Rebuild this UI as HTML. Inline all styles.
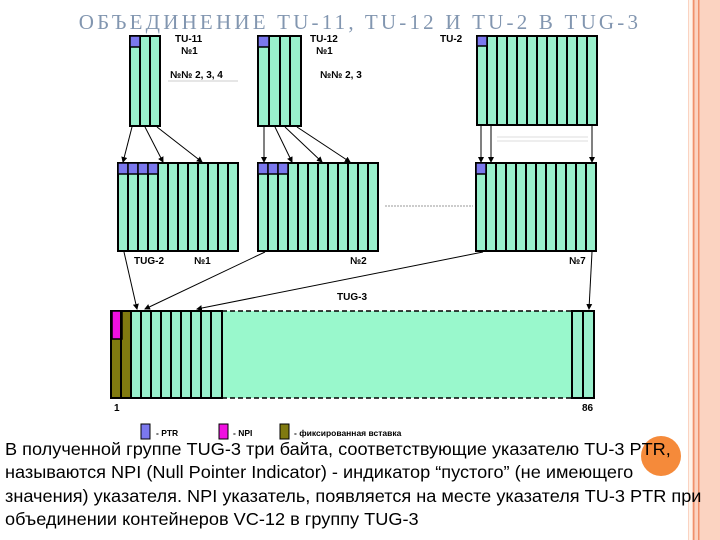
<!DOCTYPE html>
<html><head><meta charset="utf-8"><style>
html,body{margin:0;padding:0;background:#fff;width:720px;height:540px;overflow:hidden;position:relative}
.t{position:absolute;left:5px;font-family:"Liberation Sans",sans-serif;font-size:17.3px;color:#000;white-space:nowrap;line-height:23px;transform:scaleX(1.05);transform-origin:0 0}
</style></head><body>
<svg width="720" height="540" style="position:absolute;left:0;top:0" font-family="Liberation Sans, sans-serif">
<defs><marker id="a" markerWidth="6" markerHeight="6" refX="5" refY="3" orient="auto" markerUnits="userSpaceOnUse"><path d="M0,0 L6,3 L0,6z" fill="#000"/></marker></defs>
<rect x="688" y="0" width="32" height="540" fill="#fbd3c1"/>
<rect x="689" y="0" width="3" height="540" fill="#fff3ea"/>
<rect x="693" y="0" width="1.5" height="540" fill="#f0906a"/>
<rect x="698" y="0" width="1.5" height="540" fill="#f0906a"/>
<text x="360" y="29" text-anchor="middle" font-family="Liberation Serif, serif" font-size="21" fill="#8296b0" letter-spacing="3.2">ОБЪЕДИНЕНИЕ TU-11, TU-12 И TU-2 В TUG-3</text>
<g stroke="#000" stroke-width="2" fill="#99f0cc">
<rect x="130" y="36" width="30" height="90"/>
<line x1="140" y1="36" x2="140" y2="126"/><line x1="150" y1="36" x2="150" y2="126"/>
<rect x="258" y="36" width="43" height="90"/>
<line x1="269" y1="36" x2="269" y2="126"/><line x1="280" y1="36" x2="280" y2="126"/><line x1="290" y1="36" x2="290" y2="126"/>
<rect x="477" y="36" width="120" height="89"/>
<rect x="118" y="163" width="120" height="88"/>
<rect x="258" y="163" width="120" height="88"/>
<rect x="476" y="163" width="120" height="88"/>
</g>
<g stroke="#000" stroke-width="2">
<path d="M487,36V125M497,36V125M507,36V125M517,36V125M527,36V125M537,36V125M547,36V125M557,36V125M567,36V125M577,36V125M587,36V125"/>
<path d="M128,163V251M138,163V251M148,163V251M158,163V251M168,163V251M178,163V251M188,163V251M198,163V251M208,163V251M218,163V251M228,163V251"/>
<path d="M268,163V251M278,163V251M288,163V251M298,163V251M308,163V251M318,163V251M328,163V251M338,163V251M348,163V251M358,163V251M368,163V251"/>
<path d="M486,163V251M496,163V251M506,163V251M516,163V251M526,163V251M536,163V251M546,163V251M556,163V251M566,163V251M576,163V251M586,163V251"/>
</g>
<g fill="#7b78ee" stroke="#000" stroke-width="1.5">
<rect x="130" y="36" width="10" height="11"/><rect x="258" y="36" width="11" height="11"/><rect x="477" y="36" width="10" height="10"/>
<rect x="118" y="163" width="10" height="11"/><rect x="128" y="163" width="10" height="11"/><rect x="138" y="163" width="10" height="11"/><rect x="148" y="163" width="10" height="11"/>
<rect x="258" y="163" width="10" height="11"/><rect x="268" y="163" width="10" height="11"/><rect x="278" y="163" width="10" height="11"/>
<rect x="476" y="163" width="10" height="11"/>
</g>
<g stroke="#000" stroke-width="1" marker-end="url(#a)">
<line x1="132" y1="127" x2="123" y2="162"/><line x1="145" y1="127" x2="163" y2="162"/><line x1="157" y1="127" x2="202" y2="162"/>
<line x1="264" y1="127" x2="264" y2="162"/><line x1="275" y1="127" x2="292" y2="162"/><line x1="285" y1="127" x2="322" y2="162"/><line x1="297" y1="127" x2="350" y2="162"/>
<line x1="481" y1="126" x2="481" y2="162"/><line x1="491" y1="126" x2="491" y2="162"/><line x1="592" y1="126" x2="592" y2="162"/>
<line x1="124" y1="252" x2="137" y2="309"/><line x1="265" y1="252" x2="145" y2="309"/><line x1="483" y1="252" x2="197" y2="309"/><line x1="592" y1="252" x2="589" y2="309"/>
</g>
<line x1="168" y1="81" x2="238" y2="81" stroke="#ccc"/>
<line x1="497" y1="137" x2="588" y2="137" stroke="#ddd"/><line x1="497" y1="141" x2="588" y2="141" stroke="#ddd"/>
<line x1="385" y1="206" x2="473" y2="206" stroke="#999" stroke-dasharray="2,1"/>
<rect x="222" y="311" width="350" height="87" fill="#99f8cc"/>
<line x1="222" y1="311" x2="572" y2="311" stroke="#000" stroke-width="1.5" stroke-dasharray="5,3"/>
<line x1="222" y1="398" x2="572" y2="398" stroke="#000" stroke-width="1.5" stroke-dasharray="5,3"/>
<g stroke="#000" stroke-width="2">
<rect x="111" y="311" width="20" height="87" fill="#807a10"/>
<rect x="112" y="311" width="10" height="28" fill="#f010e0" stroke-width="1.5"/>
<rect x="131" y="311" width="91" height="87" fill="#99f0cc"/>
<rect x="572" y="311" width="22" height="87" fill="#99f0cc"/>
<path d="M121,311V398M141,311V398M151,311V398M161,311V398M171,311V398M181,311V398M191,311V398M201,311V398M211,311V398M583,311V398"/>
</g>
<g font-weight="bold" font-size="10" fill="#000">
<text x="175" y="42">TU-11</text><text x="181" y="54">№1</text><text x="170" y="78">№№ 2, 3, 4</text>
<text x="310" y="42">TU-12</text><text x="316" y="54">№1</text><text x="320" y="78">№№ 2, 3</text>
<text x="440" y="42">TU-2</text>
<text x="134" y="264">TUG-2</text><text x="194" y="264">№1</text><text x="350" y="264">№2</text><text x="569" y="264">№7</text>
<text x="337" y="300">TUG-3</text>
<text x="114" y="411">1</text><text x="582" y="411">86</text>
</g>
<g stroke="#000" stroke-width="1">
<rect x="141" y="424" width="9" height="15" fill="#7b78ee"/>
<rect x="219" y="424" width="9" height="15" fill="#f010e0"/>
<rect x="280" y="424" width="9" height="15" fill="#807a10"/>
</g>
<g font-size="8.5" font-weight="bold" fill="#000">
<text x="156" y="436">- PTR</text><text x="233" y="436">- NPI</text><text x="294" y="436">- фиксированная вставка</text>
</g>
<circle cx="661" cy="456" r="20" fill="#f58a3a"/>
</svg>
<div class="t" style="top:438px">В полученной группе TUG-3 три байта, соответствующие указателю TU-3 PTR,</div>
<div class="t" style="top:461px">называются NPI (Null Pointer Indicator) - индикатор “пустого” (не имеющего</div>
<div class="t" style="top:485px">значения) указателя. NPI указатель, появляется на месте указателя TU-3 PTR при</div>
<div class="t" style="top:508px">объединении контейнеров VC-12 в группу TUG-3</div>
</body></html>
